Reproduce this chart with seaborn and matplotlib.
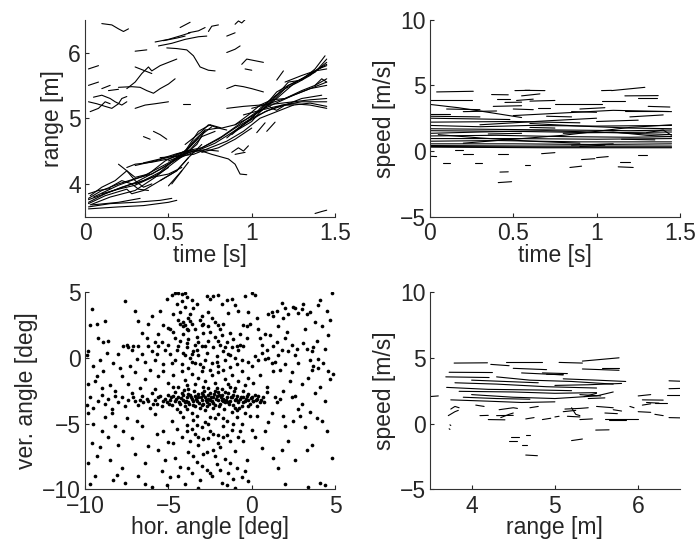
import numpy as np
import pandas as pd
import matplotlib
matplotlib.use("Agg")
import matplotlib.pyplot as plt
import seaborn as sns

# ---- data ----

# range over time, one list of (time, range) points per track
range_tracks = [
    [(0.02, 3.78), (0.1, 3.9), (0.2, 4.0), (0.3, 4.08), (0.4, 4.15), (0.5, 4.3), (0.58, 4.42), (0.65, 4.65), (0.72, 4.82), (0.8, 4.85)],
    [(0.02, 3.72), (0.12, 3.85), (0.22, 3.95), (0.35, 4.05), (0.45, 4.18), (0.55, 4.4), (0.62, 4.55), (0.7, 4.75), (0.76, 4.87)],
    [(0.03, 3.82), (0.1, 3.95), (0.18, 4.05), (0.25, 4.2), (0.3, 4.1), (0.38, 4.15), (0.48, 4.35), (0.6, 4.5), (0.68, 4.8), (0.75, 4.9)],
    [(0.03, 3.68), (0.15, 3.8), (0.3, 3.9), (0.42, 4.1), (0.52, 4.3), (0.6, 4.45), (0.67, 4.6), (0.72, 4.82)],
    [(0.02, 3.65), (0.15, 3.7), (0.3, 3.72), (0.45, 3.75), (0.52, 3.78)],
    [(0.04, 3.68), (0.2, 3.72), (0.33, 3.78)],
    [(0.02, 3.62), (0.2, 3.65), (0.35, 3.67), (0.5, 3.72), (0.55, 3.75)],
    [(0.02, 3.7), (0.12, 3.82), (0.25, 3.92), (0.28, 3.85), (0.35, 3.9), (0.45, 4.05), (0.55, 4.2), (0.62, 4.4)],
    [(0.25, 4.25), (0.3, 4.3), (0.4, 4.33), (0.5, 4.38), (0.58, 4.45), (0.65, 4.5), (0.72, 4.52), (0.8, 4.5)],
    [(0.3, 4.28), (0.42, 4.35), (0.52, 4.42), (0.6, 4.5), (0.7, 4.5), (0.76, 4.45), (0.86, 4.38), (0.9, 4.3), (0.93, 4.15), (0.97, 4.14)],
    [(0.45, 4.4), (0.55, 4.42), (0.65, 4.45), (0.75, 4.55), (0.85, 4.65), (0.95, 4.8), (1.05, 5.0), (1.15, 5.1), (1.25, 5.2), (1.35, 5.23), (1.45, 5.18)],
    [(0.5, 4.35), (0.6, 4.45), (0.7, 4.55), (0.8, 4.68), (0.9, 4.85), (1.0, 5.0), (1.1, 5.12), (1.2, 5.2), (1.3, 5.3), (1.42, 5.35)],
    [(0.55, 4.38), (0.65, 4.48), (0.78, 4.62), (0.88, 4.78), (0.98, 4.95), (1.08, 5.1), (1.18, 5.2), (1.3, 5.25), (1.45, 5.25)],
    [(0.85, 4.7), (0.92, 4.85), (1.0, 5.0), (1.05, 5.15), (1.12, 5.3), (1.2, 5.45), (1.28, 5.55), (1.35, 5.65), (1.45, 5.85)],
    [(0.88, 4.75), (0.95, 4.9), (1.02, 5.05), (1.1, 5.25), (1.15, 5.4), (1.22, 5.5), (1.3, 5.6), (1.38, 5.7), (1.45, 5.9)],
    [(0.9, 4.8), (1.0, 4.95), (1.08, 5.18), (1.15, 5.35), (1.22, 5.55), (1.3, 5.58), (1.38, 5.75), (1.44, 5.95)],
    [(0.75, 4.9), (0.82, 4.85), (0.9, 4.9), (0.98, 5.05), (1.05, 5.2), (1.12, 5.28), (1.2, 5.3), (1.3, 5.42), (1.38, 5.5), (1.45, 5.6)],
    [(0.95, 5.05), (1.05, 5.12), (1.15, 5.18), (1.25, 5.22), (1.35, 5.2), (1.45, 5.15)],
    [(1.0, 5.15), (1.1, 5.22), (1.2, 5.3), (1.3, 5.4), (1.4, 5.5), (1.45, 5.55)],
    [(0.85, 5.15), (0.95, 5.18), (1.05, 5.2), (1.15, 5.22), (1.25, 5.25), (1.35, 5.28), (1.45, 5.3)],
    [(1.2, 5.55), (1.3, 5.65), (1.38, 5.72), (1.45, 5.75)],
    [(1.1, 5.2), (1.12, 5.15), (1.15, 5.12), (1.2, 5.2), (1.25, 5.2)],
    [(0.6, 4.6), (0.65, 4.7), (0.7, 4.8), (0.74, 4.9), (0.8, 4.85), (0.85, 4.82)],
    [(0.2, 4.3), (0.25, 4.2), (0.3, 4.05), (0.35, 3.95), (0.4, 4.0)],
    [(0.15, 3.95), (0.22, 4.05), (0.28, 4.0), (0.32, 3.92), (0.38, 3.9)],
    [(0.45, 4.05), (0.55, 4.2), (0.62, 4.4), (0.7, 4.6)],
    [(0.3, 4.0), (0.4, 4.1), (0.5, 4.15), (0.58, 4.25)],
    [(0.52, 4.0), (0.62, 4.33)],
    [(0.5, 3.97), (0.58, 4.2)],
    [(0.02, 3.85), (0.08, 3.9), (0.15, 3.93)],
    [(0.02, 3.76), (0.15, 3.88), (0.3, 4.02), (0.45, 4.22), (0.55, 4.38), (0.63, 4.52), (0.7, 4.72), (0.78, 4.8)],
    [(0.05, 3.8), (0.2, 3.98), (0.35, 4.12), (0.5, 4.32), (0.6, 4.48), (0.68, 4.7)],
    [(0.6, 4.5), (0.7, 4.55), (0.82, 4.72), (0.92, 4.9), (1.02, 5.08), (1.12, 5.2), (1.25, 5.35), (1.35, 5.45), (1.45, 5.5)],
    [(0.9, 4.9), (0.98, 5.0), (1.06, 5.12), (1.14, 5.3), (1.22, 5.5), (1.32, 5.62), (1.42, 5.78)],
    [(1.05, 5.1), (1.15, 5.3), (1.25, 5.52), (1.35, 5.68), (1.45, 5.82)],
    [(0.7, 4.48), (0.8, 4.55), (0.9, 4.68), (1.0, 4.85)],
    [(0.35, 4.32), (0.45, 4.38), (0.55, 4.46), (0.65, 4.52)],
    [(0.1, 3.85), (0.2, 3.92), (0.3, 3.98), (0.42, 4.12), (0.5, 4.25)],
    [(1.03, 4.78), (1.08, 4.93)],
    [(1.09, 4.8), (1.14, 4.94)],
    [(0.88, 4.48), (0.92, 4.55), (0.95, 4.5), (0.98, 4.58)],
    [(0.9, 4.45), (0.96, 4.48)],
    [(0.1, 6.44), (0.16, 6.42), (0.2, 6.36), (0.23, 6.32), (0.26, 6.36)],
    [(0.3, 6.02), (0.37, 6.04)],
    [(0.42, 6.16), (0.5, 6.2), (0.58, 6.26), (0.63, 6.3)],
    [(0.44, 6.1), (0.52, 6.14), (0.6, 6.2), (0.68, 6.24), (0.73, 6.25)],
    [(0.47, 6.18), (0.55, 6.22), (0.6, 6.25)],
    [(0.57, 6.38), (0.6, 6.42), (0.63, 6.46)],
    [(0.62, 6.3), (0.68, 6.33), (0.72, 6.38)],
    [(0.74, 6.32), (0.76, 6.4), (0.8, 6.42)],
    [(0.49, 6.07), (0.55, 6.06), (0.61, 6.04), (0.65, 5.95), (0.69, 5.78), (0.74, 5.73), (0.78, 5.72)],
    [(0.9, 6.43), (0.92, 6.48), (0.94, 6.45), (0.96, 6.5)],
    [(0.85, 6.25), (0.9, 6.3)],
    [(0.85, 6.0), (0.9, 6.05), (0.93, 6.1)],
    [(0.94, 5.82), (0.97, 5.9), (1.03, 5.87), (1.07, 5.85)],
    [(0.96, 5.75), (1.0, 5.73)],
    [(0.02, 5.75), (0.08, 5.8)],
    [(0.02, 5.5), (0.08, 5.55)],
    [(0.1, 5.45), (0.15, 5.5)],
    [(0.14, 5.42), (0.2, 5.44)],
    [(0.2, 5.47), (0.28, 5.48), (0.33, 5.47), (0.37, 5.42), (0.41, 5.38), (0.45, 5.45), (0.5, 5.52), (0.54, 5.6)],
    [(0.25, 5.45), (0.3, 5.55), (0.34, 5.68), (0.38, 5.78), (0.4, 5.72), (0.45, 5.8), (0.5, 5.85), (0.55, 5.9)],
    [(0.3, 5.78), (0.36, 5.72), (0.4, 5.68)],
    [(0.02, 5.25), (0.07, 5.22), (0.12, 5.18), (0.16, 5.15), (0.2, 5.22), (0.22, 5.3), (0.25, 5.33)],
    [(0.05, 5.32), (0.1, 5.35), (0.15, 5.3), (0.18, 5.25), (0.22, 5.2), (0.25, 5.25)],
    [(0.03, 5.1), (0.08, 5.15), (0.12, 5.25), (0.15, 5.22)],
    [(0.3, 5.15), (0.36, 5.2), (0.42, 5.22), (0.5, 5.25)],
    [(0.59, 5.22), (0.63, 5.22)],
    [(0.35, 4.72), (0.39, 4.68)],
    [(0.41, 4.8), (0.45, 4.75), (0.49, 4.68)],
    [(0.85, 5.45), (0.9, 5.5), (0.95, 5.48), (1.0, 5.45), (1.07, 5.4)],
    [(1.15, 5.58), (1.19, 5.72)],
    [(1.38, 3.55), (1.42, 3.58), (1.45, 3.6)],
    [(1.38, 5.5), (1.42, 5.6), (1.45, 5.55)],
    [(1.4, 5.75), (1.45, 5.8)],
]

# speed over time, (time, speed) points per track
speed_time_tracks = [
    [(0.04, 4.5), (0.26, 4.55)],
    [(0.0, 3.85), (0.25, 3.85)],
    [(0.0, 3.55), (0.17, 3.3), (0.35, 2.95), (0.55, 2.55)],
    [(0.0, 2.85), (0.12, 2.85)],
    [(0.0, 2.65), (0.3, 2.6)],
    [(0.0, 2.5), (0.25, 2.45), (0.48, 2.4)],
    [(0.0, 2.2), (0.5, 2.25), (0.9, 2.15)],
    [(0.0, 1.95), (0.3, 1.85), (0.6, 1.95), (1.0, 1.9), (1.45, 1.95)],
    [(0.0, 1.7), (0.4, 1.65), (0.8, 1.6), (1.2, 1.55), (1.45, 1.6)],
    [(0.0, 1.55), (0.5, 1.5), (1.0, 1.4), (1.45, 1.45)],
    [(0.0, 1.35), (0.3, 1.45), (0.7, 1.55), (1.1, 1.4), (1.45, 1.25)],
    [(0.0, 1.15), (0.4, 1.2), (0.8, 1.1), (1.2, 1.05), (1.45, 1.1)],
    [(0.0, 0.95), (0.5, 0.95), (1.0, 0.9), (1.45, 0.95)],
    [(0.0, 0.75), (0.4, 0.8), (0.9, 0.7), (1.45, 0.7)],
    [(0.0, 0.55), (0.5, 0.55), (1.0, 0.5), (1.45, 0.55)],
    [(0.0, 0.35), (0.7, 0.3), (1.45, 0.3)],
    [(0.0, 0.3), (0.7, 0.25), (1.45, 0.25)],
    [(0.0, 0.42), (0.6, 0.38), (1.45, 0.38)],
    [(0.3, 2.0), (0.7, 2.3), (1.0, 2.5)],
    [(0.05, 1.25), (0.3, 1.0), (0.6, 0.75), (0.9, 0.6)],
    [(0.2, 0.6), (0.5, 0.9), (0.8, 1.2), (1.2, 1.8), (1.45, 2.0)],
    [(0.5, 2.7), (0.8, 2.9), (1.1, 3.1), (1.45, 3.0)],
    [(0.6, 2.1), (0.9, 1.9), (1.2, 1.75), (1.45, 1.7)],
    [(0.8, 1.35), (1.1, 1.45), (1.3, 1.2), (1.45, 1.1)],
    [(0.37, 4.3), (0.47, 4.28)],
    [(0.4, 3.95), (0.48, 3.95)],
    [(0.51, 4.6), (0.6, 4.62)],
    [(0.57, 4.62), (0.69, 4.6)],
    [(0.55, 4.2), (0.66, 4.35)],
    [(0.52, 3.85), (0.62, 3.95)],
    [(0.45, 3.7), (0.55, 3.72)],
    [(0.6, 3.8), (0.75, 3.85)],
    [(0.65, 3.3), (0.72, 3.3)],
    [(0.75, 3.55), (1.03, 3.55)],
    [(0.38, 3.4), (0.55, 3.45)],
    [(0.5, 3.2), (0.62, 3.15)],
    [(1.03, 4.6), (1.09, 4.62)],
    [(1.09, 4.6), (1.29, 4.85)],
    [(1.17, 4.2), (1.37, 4.22)],
    [(1.25, 4.05), (1.36, 4.05)],
    [(1.03, 3.8), (1.17, 3.8)],
    [(1.31, 3.4), (1.44, 3.35)],
    [(1.17, 3.05), (1.43, 3.05)],
    [(0.9, 3.2), (1.05, 3.3)],
    [(0.85, 3.0), (1.0, 2.95)],
    [(0.2, 3.0), (0.4, 3.05)],
    [(0.1, 3.2), (0.3, 3.15)],
    [(1.2, 2.6), (1.4, 2.75)],
    [(1.0, 2.25), (1.25, 2.35)],
    [(0.7, 2.65), (0.85, 2.6)],
    [(0.6, 1.8), (0.75, 1.75)],
    [(0.35, 1.3), (0.55, 1.35)],
    [(1.15, 0.9), (1.35, 0.85)],
    [(1.3, 1.4), (1.4, 1.6), (1.45, 1.2)],
    [(0.85, 0.45), (1.1, 0.55)],
    [(0.9, 0.35), (1.05, 0.45)],
    [(0.0, -0.4), (0.04, -0.42)],
    [(0.08, -0.9), (0.12, -0.9)],
    [(0.2, -0.2), (0.26, -0.2)],
    [(0.27, -0.9), (0.31, -0.9)],
    [(0.41, -0.2), (0.47, -0.2)],
    [(0.42, -1.6), (0.47, -1.58)],
    [(0.41, -2.4), (0.49, -2.33)],
    [(0.57, -1.05), (0.6, -1.05)],
    [(0.67, -0.2), (0.75, -0.12)],
    [(0.84, -1.25), (0.91, -1.15)],
    [(0.91, -0.65), (0.99, -0.58)],
    [(1.0, -0.5), (1.07, -0.42)],
    [(1.13, -1.2), (1.22, -1.25)],
    [(1.14, -0.85), (1.2, -0.85)],
    [(1.25, -0.3), (1.3, -0.3)],
    [(0.15, 0.1), (0.2, 0.1)],
]

# speed over range, (range, speed) points per track
speed_range_tracks = [
    [(3.79, 4.6), (4.19, 4.62)],
    [(3.73, 3.9), (4.25, 3.88)],
    [(3.69, 3.55), (4.21, 3.5)],
    [(4.23, 4.5), (4.45, 4.4)],
    [(4.41, 4.65), (4.85, 4.65)],
    [(5.05, 4.65), (5.33, 4.6)],
    [(5.33, 4.75), (5.77, 5.0)],
    [(5.57, 4.25), (5.77, 4.25)],
    [(5.33, 4.15), (5.77, 4.05)],
    [(4.6, 3.85), (5.1, 3.7)],
    [(4.85, 3.85), (5.15, 3.8)],
    [(4.9, 3.75), (5.1, 3.72)],
    [(4.3, 3.55), (4.7, 3.3), (5.2, 3.2), (5.7, 3.0)],
    [(3.8, 3.1), (4.3, 3.0), (4.9, 2.8), (5.5, 2.7)],
    [(3.7, 2.75), (4.2, 2.6), (4.8, 2.55), (5.2, 2.5)],
    [(3.85, 2.45), (4.5, 2.4), (5.0, 2.3), (5.5, 2.35)],
    [(4.0, 2.2), (4.5, 2.0), (5.0, 1.9), (5.5, 2.1), (5.7, 2.4)],
    [(3.75, 1.8), (4.2, 1.7), (4.6, 1.6), (5.0, 1.65)],
    [(3.9, 2.0), (4.3, 1.9), (4.7, 1.85)],
    [(4.0, 3.3), (4.4, 3.2), (4.8, 3.1)],
    [(5.1, 3.4), (5.5, 3.3), (5.85, 3.2)],
    [(5.0, 2.9), (5.4, 2.95), (5.8, 3.05)],
    [(4.5, 4.2), (4.9, 4.1)],
    [(3.5, 2.05), (3.6, 2.1)],
    [(5.3, 2.2), (5.55, 2.1)],
    [(5.4, 1.9), (5.6, 1.95)],
    [(5.35, 2.05), (5.5, 2.3)],
    [(3.75, 1.1), (3.8, 1.3), (3.85, 1.2)],
    [(3.72, 0.6), (3.8, 0.9), (3.84, 1.0)],
    [(4.33, 1.05), (4.5, 1.2), (4.55, 1.15)],
    [(4.3, 0.6), (4.5, 0.62)],
    [(4.2, 0.3), (4.4, 0.28)],
    [(4.35, 0.45), (4.45, 0.7), (4.5, 0.8)],
    [(4.65, 0.35), (4.75, 0.45)],
    [(4.47, -1.0), (4.57, -1.0)],
    [(4.45, -1.3), (4.55, -1.3)],
    [(4.65, -0.9), (4.7, -0.9)],
    [(4.65, -2.4), (4.79, -2.45)],
    [(4.6, -1.6), (4.67, -1.6)],
    [(4.85, 0.3), (4.95, 0.4)],
    [(5.2, -1.3), (5.33, -1.18)],
    [(5.49, -0.5), (5.65, -0.48)],
    [(5.12, 1.1), (5.3, 1.15), (5.4, 1.2)],
    [(5.1, 0.9), (5.25, 1.0)],
    [(5.15, 0.55), (5.3, 0.5)],
    [(5.2, 1.2), (5.25, 0.7), (5.3, 0.6)],
    [(5.3, 0.3), (5.45, 0.35)],
    [(5.6, 0.35), (6.0, 0.35)],
    [(5.65, 0.3), (5.85, 0.3)],
    [(5.5, 1.3), (5.7, 1.2)],
    [(5.6, 0.8), (5.75, 0.75)],
    [(5.7, 1.05), (5.8, 0.95)],
    [(5.9, 1.3), (5.95, 1.2)],
    [(6.05, 1.8), (6.3, 1.78)],
    [(6.0, 2.1), (6.15, 2.2)],
    [(6.1, 1.6), (6.25, 1.55)],
    [(6.05, 1.4), (6.15, 1.5)],
    [(6.37, 3.25), (6.5, 3.22)],
    [(6.37, 2.65), (6.5, 2.67)],
    [(6.35, 2.15), (6.5, 2.15)],
    [(6.2, 1.55), (6.35, 1.55)],
    [(6.37, 0.45), (6.5, 0.43)],
    [(6.2, 0.7), (6.3, 0.6)],
    [(6.0, 0.9), (6.15, 0.85)],
    [(5.0, 0.5), (5.05, 0.55)],
    [(3.74, -0.1), (3.75, -0.15)],
    [(3.73, -0.4), (3.74, -0.45)],
    [(4.1, 0.6), (4.2, 0.62)],
    [(4.05, 1.4), (4.15, 1.3)],
    [(4.7, 1.2), (4.8, 1.3)],
]

# detections, horizontal and vertical angle [deg]
angle_points = [
    # top band
    (-9.6, 3.7), (-9.7, 2.5), (-9.3, 2.6), (-8.8, 2.8), (-9.2, 1.5), (-8.9, 1.2), (-8.6, 1.3),
    (-7.6, 4.3), (-7.0, 3.6), (-6.8, 2.8), (-7.5, 1.0), (-7.1, 0.9), (-6.6, 1.9), (-6.2, 2.6), (-6.0, 3.2),
    (-5.5, 3.6), (-5.1, 4.5), (-4.8, 4.8), (-4.6, 4.9), (-4.4, 4.95), (-4.2, 4.85), (-4.0, 4.9), (-3.9, 4.6),
    (-4.2, 4.3), (-4.5, 4.1), (-5.3, 2.5), (-5.6, 1.8), (-5.8, 1.2), (-4.9, 2.2), (-4.6, 1.5), (-4.3, 2.6),
    (-4.15, 2.4), (-4.0, 2.5), (-3.8, 2.1), (-4.4, 2.9), (-4.1, 2.7), (-3.7, 3.3), (-3.5, 3.8), (-3.6, 4.4),
    (-3.3, 4.1), (-3.0, 3.2), (-2.7, 4.7), (-2.5, 4.5), (-2.3, 4.7), (-2.0, 4.8), (-1.8, 4.1), (-1.5, 4.4),
    (-1.2, 4.5), (-2.6, 3.5), (-2.4, 3.0), (-2.2, 2.7), (-3.0, 2.5), (-2.9, 2.6), (-2.0, 2.5), (-1.7, 2.6),
    (-1.4, 3.4), (-1.0, 4.0), (-0.8, 3.6), (-0.5, 2.5), (-0.3, 2.4), (-0.1, 2.6), (0.0, 4.9), (0.2, 4.8),
    (-0.4, 4.7), (0.4, 2.2), (0.6, 1.0), (0.8, 1.8), (1.3, 3.2), (1.5, 3.6), (1.8, 4.2), (2.0, 3.8),
    (2.2, 3.3), (2.5, 3.9), (2.8, 3.4), (3.0, 3.7), (3.3, 3.3), (3.5, 3.5), (3.8, 2.7), (4.0, 4.0),
    (4.2, 2.4), (4.8, 4.9), (4.7, 2.9), (3.7, 0.8), (1.0, 3.3), (2.6, 3.8), (1.2, 3.5),
    (-4.3, 3.5), (-4.0, 3.9), (-3.7, 2.8), (-3.4, 2.2), (-3.1, 2.9), (-3.8, 3.0), (-4.7, 3.3), (-2.6, 2.4),
    (-1.9, 2.2), (1.6, 2.4), (2.1, 2.0), (3.2, 2.2), (0.3, 3.0), (-0.2, 3.5), (1.9, 3.0), (4.5, 3.6),
    (4.1, 4.4), (3.1, 4.1),
    # middle band
    (-9.9, 0.2), (-9.8, 0.5), (-9.5, -0.6), (-9.1, -0.2), (-8.7, 0.4), (-8.3, -0.4), (-8.0, 0.3), (-7.7, 0.9),
    (-7.4, 0.8), (-7.2, 0.6), (-6.9, -0.1), (-6.6, 0.3), (-6.4, -0.3), (-6.2, 0.9), (-6.0, 0.5), (-5.8, -0.2),
    (-5.6, 0.9), (-5.4, 1.2), (-5.2, 0.6), (-5.0, 1.0), (-4.8, -0.4), (-4.6, -0.2), (-4.5, 0.6), (-4.3, 1.3),
    (-4.1, 0.4), (-4.0, 0.2), (-3.9, 0.8), (-3.8, 1.4), (-3.7, 0.0), (-3.6, -0.3), (-3.5, 0.5), (-3.4, 1.0),
    (-3.3, 1.6), (-3.2, 0.2), (-3.1, -0.5), (-3.0, 0.9), (-2.9, 1.9), (-2.8, -0.2), (-2.7, 0.4), (-2.6, 1.3),
    (-2.5, 2.0), (-2.4, -0.4), (-2.3, 0.8), (-2.2, 1.6), (-2.1, 0.1), (-2.0, -0.6), (-1.9, 1.0), (-1.8, 1.7),
    (-1.7, 0.5), (-1.6, -0.2), (-1.5, 1.2), (-1.4, 0.3), (-1.3, -0.7), (-1.2, 0.8), (-1.1, 1.4), (-1.0, 0.0),
    (-0.9, -0.5), (-0.8, 0.6), (-0.7, 1.0), (-0.6, -0.2), (-0.5, 0.9), (-0.3, 1.5), (-0.2, -0.3), (0.0, -0.6),
    (0.2, 0.1), (0.4, -0.2), (0.6, 0.4), (0.8, -0.1), (1.0, 0.0), (1.2, -0.4), (1.4, -0.3), (1.6, 0.2),
    (1.8, 0.6), (2.0, -0.5), (2.2, 0.5), (2.4, 1.0), (2.6, 0.2), (2.8, -0.4), (3.1, 1.1), (3.3, 0.7),
    (3.5, -0.2), (3.6, 0.5), (3.7, -0.6), (4.0, -0.1), (4.4, 0.7), (4.6, -1.0), (4.9, -1.2), (3.6, -0.9),
    (1.5, 1.2), (2.0, 1.5), (1.3, 0.9), (-4.7, 2.0), (-5.0, 2.3), (-3.6, 2.6), (-4.1, 1.8), (-3.9, 2.2),
    (-3.2, 1.2), (-3.9, 1.1), (-4.4, 0.9), (-3.3, 0.6), (-2.8, 0.9), (-3.6, 0.3), (-4.2, -0.5), (-3.8, -0.8),
    (-3.4, -0.4), (-2.9, -0.7), (-2.5, -0.9), (-2.1, -0.3), (-1.7, -0.9), (-1.3, 0.2), (-0.9, 0.9), (-1.6, 0.8),
    (-2.0, 1.3), (-1.3, 1.9), (-0.7, 1.8), (-4.9, 0.3), (-5.3, -0.5), (-5.7, 0.3), (-6.3, 1.5), (-6.8, 0.9),
    (-7.3, -0.6), (-7.9, -0.8), (-8.9, -1.0), (-9.3, -1.4), (1.1, 1.7), (2.7, 0.7), (3.9, 1.3), (4.3, -0.4),
    (4.6, 1.7), (2.4, -1.1), (4.0, -0.8), (1.7, -0.9), (0.9, 0.6), (0.5, 1.5),
    # upper part of the dense band
    (-9.8, -2.0), (-9.4, -1.8), (-9.0, -2.3), (-8.5, -2.1), (-8.2, -2.5), (-7.8, -1.4), (-7.4, -2.0), (-7.0, -1.1),
    (-6.7, -2.3), (-6.4, -1.6), (-6.1, -0.9), (-5.8, -2.4), (-5.6, -1.4), (-5.3, -1.0), (-5.0, -1.9), (-4.7, -1.3),
    (-4.4, -2.2), (-4.2, -1.0), (-4.0, -1.7), (-3.8, -2.4), (-3.6, -1.2), (-3.4, -2.0), (-3.2, -1.5), (-3.0, -1.0),
    (-2.8, -1.8), (-2.6, -2.3), (-2.4, -1.3), (-2.2, -1.9), (-2.0, -1.1), (-1.8, -2.4), (-1.6, -1.6), (-1.4, -2.0),
    (-1.2, -1.3), (-1.0, -2.3), (-0.8, -1.8), (-0.6, -1.0), (-0.4, -2.1), (-0.2, -1.5), (0.1, -1.9), (0.5, -1.3),
    (0.9, -2.2), (1.3, -1.0), (1.9, -2.5), (2.3, -1.8), (2.6, -2.9), (3.0, -2.0), (3.4, -1.5), (4.1, -2.2),
    (4.7, -1.6), (1.4, -3.0), (1.7, -3.1), (3.8, -2.7), (4.4, -3.3),
    # dense band around -3 deg
    (-9.9, -3.6), (-9.7, -3.0), (-9.5, -3.8), (-9.2, -3.3), (-9.0, -2.8), (-8.8, -3.5), (-8.6, -3.1), (-8.4, -3.9),
    (-8.2, -2.9), (-8.0, -3.4), (-7.8, -3.0), (-7.6, -3.7), (-7.4, -3.2), (-7.2, -2.7), (-7.0, -3.3), (-6.8, -3.6),
    (-6.6, -2.9), (-6.5, -3.4), (-6.3, -3.1), (-6.1, -3.8), (-6.0, -2.7), (-5.8, -3.2), (-5.7, -3.5), (-5.5, -2.9),
    (-5.4, -3.7), (-5.2, -3.1), (-5.1, -3.4), (-5.0, -2.8), (-4.9, -3.2), (-4.8, -3.6), (-4.7, -2.9), (-4.6, -3.3),
    (-4.5, -3.9), (-4.4, -3.0), (-4.3, -3.5), (-4.2, -2.7), (-4.1, -3.2), (-4.0, -3.7), (-3.9, -3.0), (-3.8, -3.4),
    (-3.7, -2.8), (-3.6, -3.1), (-3.5, -3.6), (-3.4, -2.9), (-3.3, -3.3), (-3.2, -3.0), (-3.1, -3.8), (-3.0, -3.2),
    (-2.9, -2.8), (-2.8, -3.0), (-2.7, -3.4), (-2.6, -3.1), (-2.5, -2.7), (-2.4, -3.3), (-2.3, -3.0), (-2.2, -3.6),
    (-2.1, -2.9), (-2.0, -3.2), (-1.9, -3.5), (-1.8, -2.8), (-1.7, -3.1), (-1.6, -3.4), (-1.5, -3.0), (-1.4, -2.7),
    (-1.3, -3.3), (-1.2, -3.0), (-1.1, -3.6), (-1.0, -3.2), (-0.9, -2.9), (-0.8, -3.4), (-0.7, -3.1), (-0.6, -3.7),
    (-0.5, -3.0), (-0.4, -3.3), (-0.3, -2.9), (-0.2, -3.2), (-0.1, -3.5), (0.0, -3.0), (0.1, -3.3), (0.2, -2.8),
    (0.3, -3.1), (0.5, -3.4), (0.7, -3.0), (0.9, -2.6),
    (-4.85, -3.0), (-4.55, -3.1), (-4.25, -3.05), (-3.95, -3.25), (-3.65, -2.95), (-3.35, -3.15), (-3.05, -2.95),
    (-2.75, -3.2), (-2.45, -2.95), (-2.15, -3.15), (-1.85, -3.0), (-1.55, -3.2), (-1.25, -2.95), (-0.95, -3.1),
    (-0.65, -2.95), (-0.35, -3.15), (-0.05, -3.05), (0.25, -3.2), (-3.75, -3.5), (-3.15, -3.45), (-2.55, -3.55),
    (-1.95, -3.7), (-1.35, -3.55), (-0.75, -3.8), (-2.85, -2.55), (-2.05, -2.6), (-1.05, -2.55), (-3.45, -2.5),
    (-4.05, -2.45), (-2.35, -3.85), (-1.65, -3.9),
    (-4.7, -2.2), (-3.9, -2.1), (-2.9, -2.2), (-2.1, -2.3), (-1.3, -2.2), (-0.5, -2.5), (-4.3, -4.1), (-3.6, -4.2),
    (-2.8, -4.0), (-2.0, -4.3), (-1.2, -4.1), (-0.4, -4.2), (0.3, -3.7),
    (-4.6, -2.6), (-4.35, -3.35), (-4.15, -2.85), (-3.85, -2.75), (-3.55, -3.3), (-3.25, -2.75), (-2.95, -3.5),
    (-2.65, -2.8), (-2.35, -3.45), (-2.25, -2.75), (-1.95, -2.85), (-1.75, -3.3), (-1.45, -3.35), (-1.15, -2.8),
    (-0.85, -3.25), (-0.55, -3.4), (-0.25, -2.75), (0.05, -3.25), (0.35, -2.9), (0.55, -3.2), (0.75, -3.35),
    (-5.3, -3.3), (-5.6, -3.0), (-5.9, -3.5), (-6.2, -3.3), (-6.7, -3.2), (-7.1, -3.0), (-4.95, -3.5),
    (-3.0, -3.6), (-2.7, -3.7), (-1.6, -2.6), (-1.0, -3.8), (-0.2, -3.7), (-3.4, -3.7), (-4.0, -3.4),
    (-2.5, -3.2), (-1.8, -3.2), (-2.2, -2.5), (-3.0, -2.7), (-3.9, -3.9), (-3.3, -4.4), (-2.5, -4.5),
    (-1.7, -4.6), (-0.9, -4.0), (-0.1, -4.4),
    # lower part
    (-9.8, -4.2), (-9.5, -5.0), (-9.6, -6.5), (-9.3, -7.5), (-9.4, -9.0), (-9.7, -9.6), (-9.0, -5.6), (-8.8, -4.5),
    (-8.6, -6.0), (-8.5, -7.8), (-8.3, -9.3), (-8.2, -5.2), (-8.0, -6.6), (-7.8, -8.4), (-7.6, -9.5), (-7.5, -4.6),
    (-7.2, -6.1), (-7.0, -7.3), (-6.8, -9.0), (-6.6, -5.2), (-6.4, -8.0), (-6.2, -6.7), (-6.0, -9.8), (-5.8, -4.3),
    (-5.6, -7.0), (-5.4, -8.6), (-5.3, -5.6), (-5.0, -6.4), (-4.9, -9.1), (-4.8, -4.8), (-4.6, -7.6), (-4.5, -5.4),
    (-4.3, -8.3), (-4.2, -6.0), (-4.1, -4.5), (-4.0, -9.6), (-3.9, -5.1), (-3.8, -7.2), (-3.7, -6.3), (-3.6, -8.8),
    (-3.5, -4.7), (-3.4, -5.8), (-3.3, -7.9), (-3.2, -6.6), (-3.1, -9.3), (-3.0, -5.3), (-2.9, -7.3), (-2.8, -4.9),
    (-2.7, -8.5), (-2.6, -6.1), (-2.5, -5.6), (-2.4, -9.0), (-2.3, -7.0), (-2.2, -4.6), (-2.1, -8.1), (-2.0, -5.9),
    (-1.9, -6.8), (-1.8, -9.5), (-1.7, -5.2), (-1.6, -7.7), (-1.5, -4.8), (-1.4, -8.8), (-1.3, -6.3), (-1.2, -5.5),
    (-1.1, -9.2), (-1.0, -7.1), (-0.9, -4.5), (-0.8, -6.0), (-0.6, -5.0), (-0.4, -8.6), (-0.2, -9.4), (0.0, -5.5),
    (0.3, -4.4), (0.6, -6.9), (1.0, -4.9), (1.3, -7.6), (1.6, -8.4), (2.0, -9.6), (2.0, -5.2), (2.2, -6.3),
    (2.6, -7.8), (2.9, -4.4), (3.2, -5.3), (3.4, -9.8), (3.6, -6.6), (3.9, -4.6), (4.1, -9.5), (4.4, -9.7),
    (4.8, -7.6), (1.5, -3.4), (2.4, -3.0), (3.0, -3.5), (4.2, -4.8),
    (-3.9, -5.6), (-3.6, -5.4), (-3.3, -5.1), (-3.2, -6.0), (-2.9, -6.2), (-2.6, -5.0), (-2.3, -5.8), (-2.0, -6.5),
    (-1.7, -6.0), (-1.5, -5.9), (-1.1, -5.0), (-0.7, -5.6), (-0.5, -6.3), (-3.5, -7.5), (-3.0, -8.2), (-2.7, -7.2),
    (-2.2, -7.5), (-1.9, -8.5), (-1.3, -8.0), (-0.9, -8.4), (-0.6, -9.1), (-4.4, -9.0), (-3.8, -8.4), (-2.5, -8.8),
    (-1.5, -9.7), (-4.7, -6.5), (-5.2, -7.8), (-5.7, -5.8), (-6.9, -4.8), (-7.7, -5.6), (-8.4, -4.2), (-9.1, -6.8),
    (-9.8, -8.0), (-8.1, -8.9), (-6.4, -9.6), (-5.1, -9.7), (-3.2, -9.9), (-1.0, -9.9), (-0.3, -7.8), (0.2, -6.0),
    (0.8, -5.6), (1.2, -4.2), (1.8, -7.0), (2.5, -4.8), (3.3, -7.0), (4.5, -5.6), (2.8, -3.9), (1.9, -4.4),
    (3.5, -4.1),
]
hor_angle = [p[0] for p in angle_points]
ver_angle = [p[1] for p in angle_points]


def tracks_to_frame(tracks, xname, yname):
    rows = []
    for i, tr in enumerate(tracks):
        for x, y in tr:
            rows.append((i, x, y))
    return pd.DataFrame(rows, columns=["track", xname, yname])


range_df = tracks_to_frame(range_tracks, "time", "range")
speed_t_df = tracks_to_frame(speed_time_tracks, "time", "speed")
speed_r_df = tracks_to_frame(speed_range_tracks, "range", "speed")
angle_df = pd.DataFrame({"hor": hor_angle, "ver": ver_angle})

sns.set_style("ticks")
plt.rcParams["font.family"] = ["Liberation Sans", "DejaVu Sans"]
plt.rcParams["xtick.direction"] = "in"
plt.rcParams["ytick.direction"] = "in"

fig = plt.figure(figsize=(6.98, 5.46), dpi=100)
W, H = 0.358, 0.361
ax1 = fig.add_axes([0.122, 0.603, W, H])
ax2 = fig.add_axes([0.616, 0.603, W, H])
ax3 = fig.add_axes([0.122, 0.104, W, H])
ax4 = fig.add_axes([0.616, 0.104, W, H])

line_kw = dict(units="track", estimator=None, sort=False, color="black", linewidth=0.8, legend=False)

sns.lineplot(data=range_df, x="time", y="range", ax=ax1, **line_kw)
ax1.set(xlim=(0, 1.5), ylim=(3.5, 6.5), xticks=[0, 0.5, 1, 1.5], yticks=[4, 5, 6],
        xlabel="time [s]", ylabel="range [m]")
ax1.set_xticklabels(["0", "0.5", "1", "1.5"])

sns.lineplot(data=speed_t_df, x="time", y="speed", ax=ax2, **line_kw)
ax2.set(xlim=(0, 1.5), ylim=(-5, 10), xticks=[0, 0.5, 1, 1.5], yticks=[-5, 0, 5, 10],
        xlabel="time [s]", ylabel="speed [m/s]")
ax2.set_xticklabels(["0", "0.5", "1", "1.5"])

sns.scatterplot(data=angle_df, x="hor", y="ver", ax=ax3, color="black", s=7, linewidth=0)
ax3.set(xlim=(-10, 5), ylim=(-10, 5), xticks=[-10, -5, 0, 5], yticks=[-10, -5, 0, 5],
        xlabel="hor. angle [deg]", ylabel="ver. angle [deg]")

sns.lineplot(data=speed_r_df, x="range", y="speed", ax=ax4, **line_kw)
ax4.set(xlim=(3.5, 6.5), ylim=(-5, 10), xticks=[4, 5, 6], yticks=[-5, 0, 5, 10],
        xlabel="range [m]", ylabel="speed [m/s]")

for ax in (ax1, ax2, ax3, ax4):
    sns.despine(ax=ax)
    for s in ("left", "bottom"):
        ax.spines[s].set_linewidth(0.8)
        ax.spines[s].set_color("#333333")
    ax.tick_params(length=3, width=0.8, labelsize=16.5)
    ax.tick_params(axis="x", pad=4)
    ax.tick_params(axis="y", pad=3)
    ax.xaxis.label.set_size(16.5)
    ax.yaxis.label.set_size(16.5)
    ax.xaxis.labelpad = -1
    ax.yaxis.labelpad = 3

fig.savefig("out.png", dpi=100)
